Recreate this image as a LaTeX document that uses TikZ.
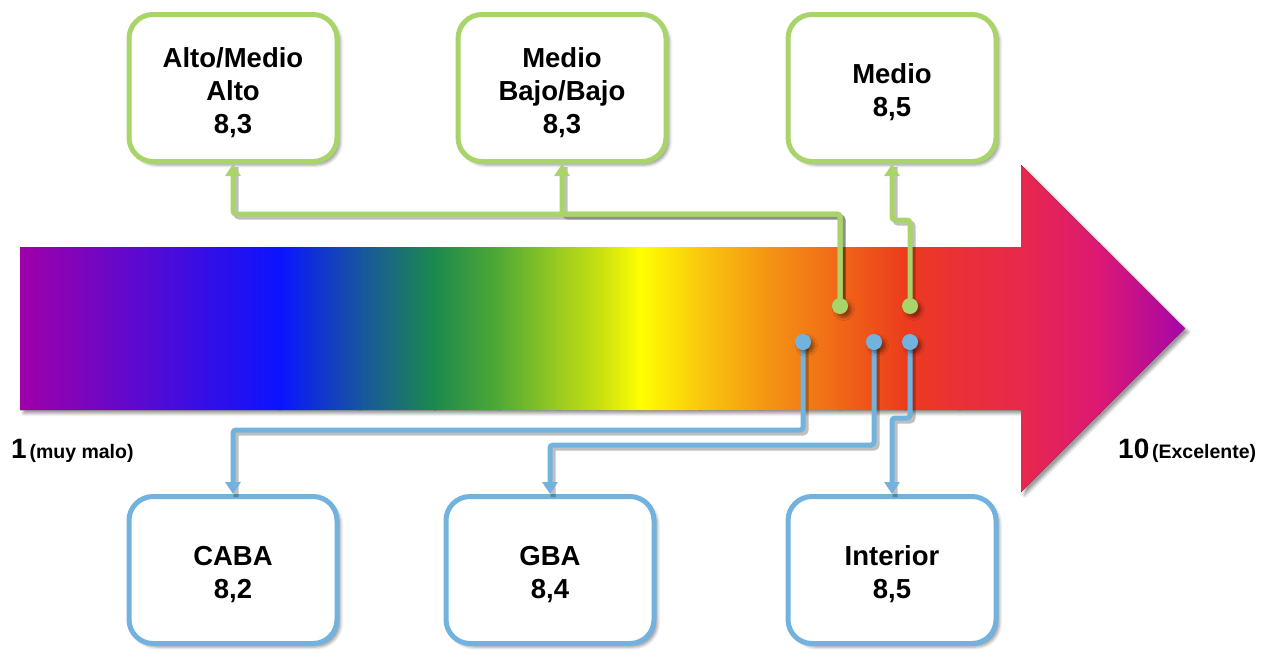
\documentclass[tikz,border=0pt]{standalone}
\usepackage{fontspec}
\setmainfont{Liberation Sans}
\usetikzlibrary{arrows.meta,shadows.blur}

\definecolor{boxgreen}{HTML}{A8D46A}
\definecolor{boxblue}{HTML}{72B2DF}
% colour stops of the scale arrow
\definecolor{sA}{HTML}{A000A8}
\definecolor{sB}{HTML}{0A14FF}
\definecolor{sC}{HTML}{1855A0}
\definecolor{sD}{HTML}{1C8A4C}
\definecolor{sE}{HTML}{52AA34}
\definecolor{sF}{HTML}{9CCC20}
\definecolor{sG}{HTML}{C8E010}
\definecolor{sH}{HTML}{FFFF00}
\definecolor{sI}{HTML}{F9C80E}
\definecolor{sJ}{HTML}{F59A12}
\definecolor{sK}{HTML}{F06618}
\definecolor{sL}{HTML}{EC3C1C}
\definecolor{sM}{HTML}{EA3038}
\definecolor{sN}{HTML}{E8284C}
\definecolor{sO}{HTML}{DC1874}
\definecolor{sP}{HTML}{A406AA}

% invisible strut that lowers the card text a little
\newcommand{\cardtop}{\rule{0pt}{29pt}}

\tikzset{
  softshadow/.style={blur shadow={shadow xshift=3.5pt, shadow yshift=-3.5pt,
      shadow blur radius=3pt, shadow opacity=40}},
  card/.style={rectangle, rounded corners=24, line width=5, fill=white,
      minimum width=208, minimum height=147, align=center,
      font=\fontsize{27.5}{33}\selectfont\bfseries, softshadow},
  greencard/.style={card, draw=boxgreen},
  bluecard/.style={card, draw=boxblue},
  link/.style={line width=5, rounded corners=3,
      -{Triangle[width=15pt,length=12pt]}},
  linkshadow/.style={line width=5, rounded corners=3, draw=black,
      opacity=0.25, transform canvas={shift={(3pt,-3pt)}}},
  pin/.style={circle, inner sep=0pt, minimum size=16},
  scalelabel/.style={anchor=base west, inner sep=0pt, font=\bfseries},
}

\begin{document}
\begin{tikzpicture}[x=1pt, y=-1pt]
\useasboundingbox (0,0) rectangle (1273,651);

% scale arrow: white body with shadow, then the colour bands clipped to it
\def\arrowpath{(20,247) -- (1021,247) -- (1021,165) -- (1185,328.5)
  -- (1021,492) -- (1021,410) -- (20,410) -- cycle}
\fill[white, softshadow] \arrowpath;
\begin{scope}
  \clip \arrowpath;
  \foreach \xa/\ca/\xb/\cb in {
      20/sA/280/sB, 280/sB/360/sC, 360/sC/435/sD, 435/sD/500/sE,
      500/sE/560/sF, 560/sF/600/sG, 600/sG/640/sH, 640/sH/700/sI,
      700/sI/760/sJ, 760/sJ/840/sK, 840/sK/905/sL, 905/sL/960/sM,
      960/sM/1021/sN, 1021/sN/1100/sO, 1100/sO/1186/sP}
    \fill[left color=\ca, right color=\cb] (\xa-0.6,160) rectangle (\xb+0.6,500);
\end{scope}

% category cards
\node[greencard] (top1) at (233,88) {\cardtop Alto/Medio\\Alto\\8,3};
\node[greencard] (top2) at (562,88) {\cardtop Medio\\Bajo/Bajo\\8,3};
\node[greencard] (top3) at (892,88) {\cardtop Medio\\8,5};
\node[bluecard]  (bot1) at (233,570) {\cardtop CABA\\8,2};
\node[bluecard]  (bot2) at (550,570) {\cardtop GBA\\8,4};
\node[bluecard]  (bot3) at (892,570) {\cardtop Interior\\8,5};

% anchor points on the scale
\coordinate (g1) at (840,306);
\coordinate (g2) at (910,306);
\coordinate (b1) at (803,342);
\coordinate (b2) at (874,342);
\coordinate (b3) at (910,342);

% connector shadows
\draw[linkshadow] (g1) -- (g1 |- 0,214) -- (top1.south |- 0,214) -- (top1.south);
\draw[linkshadow] (g1) -- (g1 |- 0,214) -- (top2.south |- 0,214) -- (top2.south);
\draw[linkshadow] (g2) -- (g2 |- 0,220) -- (top3.south |- 0,220) -- (top3.south);
\draw[linkshadow] (b1) -- (b1 |- 0,430) -- (bot1.north |- 0,430) -- (bot1.north);
\draw[linkshadow] (b2) -- (b2 |- 0,445) -- (bot2.north |- 0,445) -- (bot2.north);
\draw[linkshadow] (b3) -- (b3 |- 0,418) -- (bot3.north |- 0,418) -- (bot3.north);

% connectors
\draw[link, boxgreen] (g1) -- (g1 |- 0,214) -- (top1.south |- 0,214) -- (top1.south);
\draw[link, boxgreen] (g1) -- (g1 |- 0,214) -- (top2.south |- 0,214) -- (top2.south);
\draw[link, boxgreen] (g2) -- (g2 |- 0,220) -- (top3.south |- 0,220) -- (top3.south);
\draw[link, boxblue] (b1) -- (b1 |- 0,430) -- (bot1.north |- 0,430) -- (bot1.north);
\draw[link, boxblue] (b2) -- (b2 |- 0,445) -- (bot2.north |- 0,445) -- (bot2.north);
\draw[link, boxblue] (b3) -- (b3 |- 0,418) -- (bot3.north |- 0,418) -- (bot3.north);

% pins
\foreach \p in {g1,g2}
  \node[pin, fill=boxgreen, softshadow] (pin-\p) at (\p) {};
\foreach \p in {b1,b2,b3}
  \node[pin, fill=boxblue, softshadow] (pin-\p) at (\p) {};

% scale ends
\node[scalelabel] (lo) at (11,458)
  {{\fontsize{28}{30}\selectfont 1} {\fontsize{19.5}{22}\selectfont (muy malo)}};
\node[scalelabel] (hi) at (1118,458)
  {{\fontsize{28}{30}\selectfont 10} {\fontsize{19.5}{22}\selectfont (Excelente)}};
\end{tikzpicture}
\end{document}
